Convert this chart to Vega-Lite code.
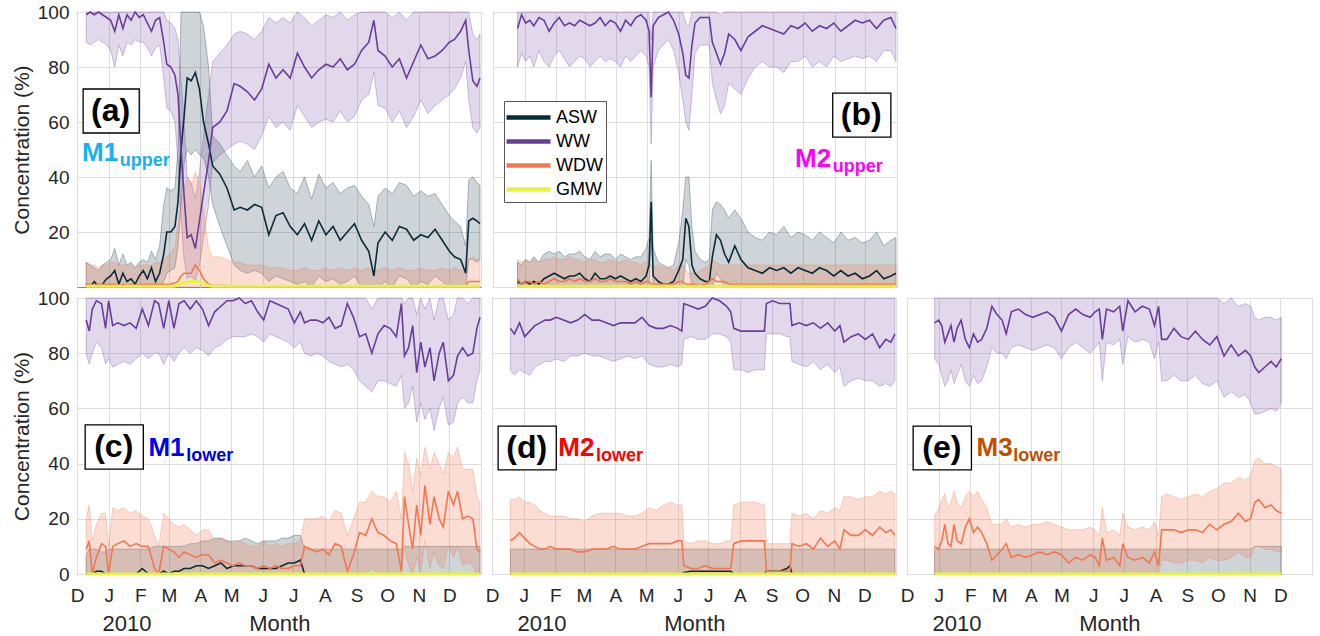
{
"$schema": "https://vega.github.io/schema/vega-lite/v6.json",
"padding": {"left": 10, "top": 2, "right": 0, "bottom": 0},
"background": "white",
"spacing": -5,
"resolve": {"scale": {"color": "independent"}, "legend": {"color": "independent"}},
"datasets": {
"a": [
{"d":"2009-12-10","wm":99,"wl":89,"wh":100,"am":1,"al":0,"ah":9,"om":1,"ol":0,"oh":9,"g":0.3},
{"d":"2009-12-14","wm":100,"wl":88,"wh":100,"am":0,"al":0,"ah":8,"om":1,"ol":0,"oh":8,"g":0.3},
{"d":"2009-12-18","wm":99,"wl":89,"wh":100,"am":2,"al":0,"ah":7,"om":0.5,"ol":0,"oh":8,"g":0.3},
{"d":"2009-12-22","wm":100,"wl":90,"wh":100,"am":0,"al":0,"ah":6,"om":1,"ol":0,"oh":7,"g":0.3},
{"d":"2009-12-26","wm":99,"wl":89,"wh":100,"am":1,"al":0,"ah":8,"om":1,"ol":0,"oh":8,"g":0.3},
{"d":"2009-12-30","wm":98,"wl":88,"wh":100,"am":3,"al":0,"ah":9,"om":1,"ol":0,"oh":8,"g":0.3},
{"d":"2010-01-03","wm":97,"wl":86,"wh":100,"am":4,"al":0,"ah":10,"om":1,"ol":0,"oh":9,"g":0.3},
{"d":"2010-01-07","wm":93,"wl":80,"wh":100,"am":6,"al":0,"ah":14,"om":1,"ol":0,"oh":9,"g":0.3},
{"d":"2010-01-11","wm":99,"wl":88,"wh":100,"am":1,"al":0,"ah":8,"om":0.5,"ol":0,"oh":8,"g":0.3},
{"d":"2010-01-15","wm":94,"wl":84,"wh":100,"am":5,"al":0,"ah":12,"om":1,"ol":0,"oh":8,"g":0.3},
{"d":"2010-01-19","wm":99,"wl":89,"wh":100,"am":2,"al":0,"ah":8,"om":0.5,"ol":0,"oh":8,"g":0.3},
{"d":"2010-01-23","wm":97,"wl":88,"wh":100,"am":3,"al":0,"ah":9,"om":1,"ol":0,"oh":8,"g":0.3},
{"d":"2010-01-27","wm":100,"wl":90,"wh":100,"am":1,"al":0,"ah":7,"om":0.5,"ol":0,"oh":7,"g":0.3},
{"d":"2010-01-31","wm":98,"wl":89,"wh":100,"am":4,"al":0,"ah":9,"om":1,"ol":0,"oh":8,"g":0.3},
{"d":"2010-02-04","wm":99,"wl":89,"wh":100,"am":6,"al":0,"ah":10,"om":1,"ol":0,"oh":8,"g":0.3},
{"d":"2010-02-08","wm":96,"wl":87,"wh":100,"am":3,"al":0,"ah":9,"om":1,"ol":0,"oh":8,"g":0.3},
{"d":"2010-02-12","wm":93,"wl":84,"wh":100,"am":7,"al":0,"ah":13,"om":1,"ol":0,"oh":8,"g":0.3},
{"d":"2010-02-16","wm":97,"wl":87,"wh":100,"am":2,"al":0,"ah":10,"om":1,"ol":0,"oh":9,"g":0.3},
{"d":"2010-02-20","wm":98,"wl":88,"wh":100,"am":5,"al":0,"ah":15,"om":1,"ol":0,"oh":9,"g":0.3},
{"d":"2010-02-24","wm":89,"wl":76,"wh":100,"am":12,"al":2,"ah":30,"om":1,"ol":0,"oh":10,"g":0.3},
{"d":"2010-02-27","wm":81,"wl":65,"wh":97,"am":20,"al":5,"ah":36,"om":1,"ol":0,"oh":11,"g":0.3},
{"d":"2010-03-03","wm":80,"wl":64,"wh":96,"am":20,"al":6,"ah":35,"om":1,"ol":0,"oh":12,"g":0.3},
{"d":"2010-03-07","wm":77,"wl":60,"wh":94,"am":22,"al":7,"ah":36,"om":1.5,"ol":0,"oh":15,"g":0.4},
{"d":"2010-03-10","wm":70,"wl":45,"wh":90,"am":31,"al":15,"ah":50,"om":2,"ol":0,"oh":22,"g":0.8},
{"d":"2010-03-13","wm":50,"wl":25,"wh":75,"am":50,"al":30,"ah":100,"om":4,"ol":0,"oh":30,"g":1.5},
{"d":"2010-03-16","wm":33,"wl":10,"wh":60,"am":62,"al":45,"ah":100,"om":5,"ol":0,"oh":36,"g":1.5},
{"d":"2010-03-19","wm":18,"wl":3,"wh":40,"am":76,"al":50,"ah":100,"om":5,"ol":0,"oh":40,"g":1.8},
{"d":"2010-03-23","wm":19,"wl":4,"wh":38,"am":75,"al":48,"ah":100,"om":5,"ol":0,"oh":37,"g":2},
{"d":"2010-03-27","wm":14,"wl":2,"wh":32,"am":78,"al":50,"ah":100,"om":8,"ol":0,"oh":42,"g":2},
{"d":"2010-03-31","wm":24,"wl":8,"wh":42,"am":72,"al":48,"ah":100,"om":6,"ol":0,"oh":38,"g":1.8},
{"d":"2010-04-04","wm":34,"wl":18,"wh":55,"am":60,"al":47,"ah":95,"om":3,"ol":0,"oh":28,"g":1.2},
{"d":"2010-04-09","wm":46,"wl":30,"wh":70,"am":52,"al":40,"ah":80,"om":1,"ol":0,"oh":14,"g":0.5},
{"d":"2010-04-13","wm":58,"wl":45,"wh":82,"am":44,"al":30,"ah":55,"om":0.5,"ol":0,"oh":11,"g":0.3},
{"d":"2010-04-20","wm":60,"wl":48,"wh":85,"am":41,"al":22,"ah":52,"om":0.5,"ol":0,"oh":11,"g":0.3},
{"d":"2010-04-27","wm":64,"wl":50,"wh":88,"am":36,"al":15,"ah":48,"om":0.5,"ol":0,"oh":10,"g":0.3},
{"d":"2010-05-04","wm":74,"wl":52,"wh":92,"am":28,"al":8,"ah":44,"om":0.3,"ol":0,"oh":9,"g":0.3},
{"d":"2010-05-10","wm":73,"wl":53,"wh":93,"am":29,"al":6,"ah":42,"om":0.3,"ol":0,"oh":9,"g":0.3},
{"d":"2010-05-17","wm":71,"wl":52,"wh":92,"am":28,"al":5,"ah":46,"om":0.3,"ol":0,"oh":8,"g":0.3},
{"d":"2010-05-24","wm":68,"wl":50,"wh":90,"am":30,"al":6,"ah":40,"om":0.3,"ol":0,"oh":8,"g":0.3},
{"d":"2010-05-31","wm":72,"wl":55,"wh":93,"am":29,"al":5,"ah":44,"om":0.3,"ol":0,"oh":8,"g":0.3},
{"d":"2010-06-07","wm":81,"wl":62,"wh":98,"am":19,"al":2,"ah":36,"om":0.3,"ol":0,"oh":7,"g":0.3},
{"d":"2010-06-14","wm":76,"wl":58,"wh":96,"am":26,"al":4,"ah":40,"om":0.3,"ol":0,"oh":7,"g":0.3},
{"d":"2010-06-21","wm":79,"wl":60,"wh":98,"am":27,"al":3,"ah":42,"om":0.3,"ol":0,"oh":7,"g":0.3},
{"d":"2010-06-28","wm":76,"wl":57,"wh":96,"am":22,"al":2,"ah":36,"om":0.3,"ol":0,"oh":6,"g":0.3},
{"d":"2010-07-05","wm":85,"wl":66,"wh":100,"am":19,"al":1,"ah":34,"om":0.3,"ol":0,"oh":6,"g":0.3},
{"d":"2010-07-12","wm":80,"wl":62,"wh":98,"am":23,"al":2,"ah":40,"om":0.3,"ol":0,"oh":7,"g":0.3},
{"d":"2010-07-19","wm":76,"wl":58,"wh":95,"am":17,"al":0,"ah":32,"om":0.3,"ol":0,"oh":6,"g":0.3},
{"d":"2010-07-26","wm":79,"wl":60,"wh":97,"am":24,"al":4,"ah":41,"om":0.3,"ol":0,"oh":6,"g":0.3},
{"d":"2010-08-02","wm":81,"wl":61,"wh":99,"am":19,"al":2,"ah":36,"om":0.3,"ol":0,"oh":7,"g":0.3},
{"d":"2010-08-09","wm":80,"wl":60,"wh":98,"am":22,"al":3,"ah":38,"om":0.3,"ol":0,"oh":6,"g":0.3},
{"d":"2010-08-16","wm":83,"wl":64,"wh":100,"am":17,"al":1,"ah":34,"om":0.3,"ol":0,"oh":7,"g":0.3},
{"d":"2010-08-23","wm":79,"wl":60,"wh":97,"am":20,"al":2,"ah":36,"om":0.3,"ol":0,"oh":6,"g":0.3},
{"d":"2010-08-30","wm":81,"wl":62,"wh":99,"am":23,"al":4,"ah":37,"om":0.3,"ol":0,"oh":7,"g":0.3},
{"d":"2010-09-06","wm":86,"wl":68,"wh":100,"am":17,"al":0,"ah":33,"om":0.3,"ol":0,"oh":6,"g":0.3},
{"d":"2010-09-13","wm":89,"wl":70,"wh":100,"am":13,"al":0,"ah":30,"om":0.3,"ol":0,"oh":7,"g":0.3},
{"d":"2010-09-18","wm":97,"wl":78,"wh":100,"am":4,"al":0,"ah":22,"om":0.3,"ol":0,"oh":6,"g":0.3},
{"d":"2010-09-22","wm":86,"wl":66,"wh":100,"am":16,"al":0,"ah":33,"om":0.3,"ol":0,"oh":6,"g":0.3},
{"d":"2010-09-29","wm":84,"wl":65,"wh":100,"am":20,"al":2,"ah":36,"om":0.3,"ol":0,"oh":7,"g":0.3},
{"d":"2010-10-06","wm":80,"wl":60,"wh":98,"am":17,"al":0,"ah":34,"om":0.3,"ol":0,"oh":6,"g":0.3},
{"d":"2010-10-13","wm":83,"wl":64,"wh":100,"am":22,"al":4,"ah":38,"om":0.3,"ol":0,"oh":7,"g":0.3},
{"d":"2010-10-20","wm":76,"wl":58,"wh":97,"am":21,"al":3,"ah":37,"om":0.3,"ol":0,"oh":6,"g":0.3},
{"d":"2010-10-27","wm":82,"wl":62,"wh":100,"am":17,"al":0,"ah":33,"om":0.3,"ol":0,"oh":6,"g":0.3},
{"d":"2010-11-03","wm":88,"wl":68,"wh":100,"am":19,"al":2,"ah":35,"om":0.3,"ol":0,"oh":7,"g":0.3},
{"d":"2010-11-10","wm":83,"wl":63,"wh":100,"am":18,"al":1,"ah":33,"om":0.5,"ol":0,"oh":6,"g":0.3},
{"d":"2010-11-17","wm":84,"wl":66,"wh":100,"am":21,"al":4,"ah":34,"om":0.3,"ol":0,"oh":6,"g":0.3},
{"d":"2010-11-24","wm":86,"wl":68,"wh":100,"am":17,"al":2,"ah":30,"om":0.5,"ol":0,"oh":7,"g":0.3},
{"d":"2010-12-01","wm":89,"wl":70,"wh":100,"am":13,"al":0,"ah":26,"om":0.3,"ol":0,"oh":6,"g":0.3},
{"d":"2010-12-06","wm":90,"wl":72,"wh":100,"am":11,"al":0,"ah":24,"om":0.5,"ol":0,"oh":7,"g":0.3},
{"d":"2010-12-12","wm":93,"wl":76,"wh":100,"am":10,"al":0,"ah":22,"om":0.3,"ol":0,"oh":6,"g":0.3},
{"d":"2010-12-17","wm":97,"wl":82,"wh":100,"am":5,"al":0,"ah":15,"om":0.5,"ol":0,"oh":6,"g":0.3},
{"d":"2010-12-20","wm":86,"wl":68,"wh":100,"am":24,"al":10,"ah":39,"om":2,"ol":0,"oh":10,"g":0.3},
{"d":"2010-12-24","wm":75,"wl":58,"wh":92,"am":25,"al":10,"ah":40,"om":2,"ol":0,"oh":11,"g":0.3},
{"d":"2010-12-28","wm":73,"wl":56,"wh":90,"am":24,"al":9,"ah":38,"om":2,"ol":0,"oh":10,"g":0.3},
{"d":"2010-12-31","wm":76,"wl":58,"wh":92,"am":23,"al":10,"ah":37,"om":2,"ol":0,"oh":10,"g":0.3}
],
"b": [
{"d":"2009-12-25","wm":94,"wl":80,"wh":100,"am":2,"al":0,"ah":9,"om":3,"ol":0,"oh":10,"g":0.3},
{"d":"2009-12-29","wm":99,"wl":85,"wh":100,"am":1,"al":0,"ah":8,"om":1,"ol":0,"oh":9,"g":0.3},
{"d":"2010-01-02","wm":96,"wl":82,"wh":100,"am":2,"al":0,"ah":10,"om":2,"ol":0,"oh":10,"g":0.3},
{"d":"2010-01-06","wm":97,"wl":84,"wh":100,"am":1,"al":0,"ah":9,"om":2,"ol":0,"oh":9,"g":0.3},
{"d":"2010-01-10","wm":95,"wl":80,"wh":100,"am":2,"al":0,"ah":11,"om":1,"ol":0,"oh":10,"g":0.3},
{"d":"2010-01-15","wm":98,"wl":86,"wh":100,"am":1,"al":0,"ah":9,"om":2,"ol":0,"oh":9,"g":0.3},
{"d":"2010-01-20","wm":97,"wl":82,"wh":100,"am":3,"al":0,"ah":12,"om":1,"ol":0,"oh":10,"g":0.3},
{"d":"2010-01-25","wm":93,"wl":80,"wh":100,"am":4,"al":0,"ah":13,"om":2,"ol":0,"oh":10,"g":0.3},
{"d":"2010-01-30","wm":96,"wl":84,"wh":100,"am":5,"al":0,"ah":12,"om":3,"ol":0,"oh":11,"g":0.3},
{"d":"2010-02-04","wm":98,"wl":86,"wh":100,"am":4,"al":0,"ah":13,"om":2,"ol":0,"oh":10,"g":0.3},
{"d":"2010-02-09","wm":95,"wl":83,"wh":100,"am":3,"al":0,"ah":11,"om":2,"ol":0,"oh":10,"g":0.3},
{"d":"2010-02-14","wm":96,"wl":80,"wh":100,"am":4,"al":0,"ah":12,"om":3,"ol":0,"oh":11,"g":0.3},
{"d":"2010-02-19","wm":95,"wl":82,"wh":100,"am":4,"al":0,"ah":12,"om":2,"ol":0,"oh":10,"g":0.3},
{"d":"2010-02-24","wm":97,"wl":84,"wh":100,"am":5,"al":0,"ah":13,"om":3,"ol":0,"oh":10,"g":0.3},
{"d":"2010-03-01","wm":96,"wl":83,"wh":100,"am":3,"al":0,"ah":11,"om":2,"ol":0,"oh":9,"g":0.3},
{"d":"2010-03-06","wm":95,"wl":80,"wh":100,"am":2,"al":0,"ah":10,"om":2,"ol":0,"oh":10,"g":0.3},
{"d":"2010-03-11","wm":96,"wl":82,"wh":100,"am":5,"al":0,"ah":13,"om":3,"ol":0,"oh":10,"g":0.3},
{"d":"2010-03-16","wm":98,"wl":84,"wh":100,"am":3,"al":0,"ah":11,"om":2,"ol":0,"oh":9,"g":0.3},
{"d":"2010-03-21","wm":95,"wl":82,"wh":100,"am":3,"al":0,"ah":12,"om":2,"ol":0,"oh":9,"g":0.3},
{"d":"2010-03-26","wm":97,"wl":83,"wh":100,"am":4,"al":0,"ah":12,"om":3,"ol":0,"oh":10,"g":0.3},
{"d":"2010-03-31","wm":96,"wl":82,"wh":100,"am":3,"al":0,"ah":10,"om":2,"ol":0,"oh":9,"g":0.3},
{"d":"2010-04-05","wm":93,"wl":80,"wh":100,"am":4,"al":0,"ah":12,"om":2,"ol":0,"oh":9,"g":0.3},
{"d":"2010-04-10","wm":97,"wl":84,"wh":100,"am":3,"al":0,"ah":11,"om":2,"ol":0,"oh":10,"g":0.3},
{"d":"2010-04-15","wm":95,"wl":82,"wh":100,"am":2,"al":0,"ah":10,"om":1,"ol":0,"oh":9,"g":0.3},
{"d":"2010-04-20","wm":98,"wl":84,"wh":100,"am":3,"al":0,"ah":11,"om":2,"ol":0,"oh":9,"g":0.3},
{"d":"2010-04-25","wm":99,"wl":86,"wh":100,"am":2,"al":0,"ah":11,"om":1,"ol":0,"oh":8,"g":0.3},
{"d":"2010-04-30","wm":97,"wl":84,"wh":100,"am":4,"al":0,"ah":14,"om":2,"ol":0,"oh":9,"g":0.3},
{"d":"2010-05-03","wm":93,"wl":80,"wh":100,"am":8,"al":0,"ah":18,"om":2,"ol":0,"oh":9,"g":0.3},
{"d":"2010-05-05","wm":69,"wl":52,"wh":90,"am":31,"al":18,"ah":46,"om":1,"ol":0,"oh":8,"g":0.3},
{"d":"2010-05-07","wm":95,"wl":80,"wh":100,"am":4,"al":0,"ah":14,"om":1,"ol":0,"oh":7,"g":0.3},
{"d":"2010-05-12","wm":98,"wl":86,"wh":100,"am":2,"al":0,"ah":9,"om":1,"ol":0,"oh":8,"g":0.3},
{"d":"2010-05-17","wm":99,"wl":88,"wh":100,"am":1,"al":0,"ah":8,"om":1,"ol":0,"oh":7,"g":0.3},
{"d":"2010-05-22","wm":100,"wl":90,"wh":100,"am":1,"al":0,"ah":7,"om":1,"ol":0,"oh":7,"g":0.3},
{"d":"2010-05-27","wm":97,"wl":86,"wh":100,"am":2,"al":0,"ah":8,"om":1,"ol":0,"oh":6,"g":0.3},
{"d":"2010-06-01","wm":92,"wl":78,"wh":100,"am":6,"al":0,"ah":16,"om":2,"ol":0,"oh":8,"g":0.3},
{"d":"2010-06-05","wm":85,"wl":68,"wh":100,"am":10,"al":0,"ah":28,"om":2,"ol":0,"oh":8,"g":0.3},
{"d":"2010-06-08","wm":77,"wl":60,"wh":96,"am":25,"al":10,"ah":40,"om":1,"ol":0,"oh":6,"g":0.3},
{"d":"2010-06-11","wm":76,"wl":57,"wh":95,"am":22,"al":8,"ah":40,"om":1,"ol":0,"oh":5,"g":0.3},
{"d":"2010-06-14","wm":88,"wl":70,"wh":100,"am":8,"al":0,"ah":22,"om":1,"ol":0,"oh":5,"g":0.3},
{"d":"2010-06-17","wm":96,"wl":85,"wh":100,"am":5,"al":0,"ah":13,"om":1,"ol":0,"oh":5,"g":0.3},
{"d":"2010-06-22","wm":98,"wl":88,"wh":100,"am":3,"al":0,"ah":10,"om":0.5,"ol":0,"oh":6,"g":0.3},
{"d":"2010-06-27","wm":98,"wl":88,"wh":100,"am":2,"al":0,"ah":9,"om":1,"ol":0,"oh":7,"g":0.3},
{"d":"2010-07-01","wm":98,"wl":88,"wh":100,"am":2,"al":0,"ah":10,"om":2,"ol":0,"oh":8,"g":0.3},
{"d":"2010-07-04","wm":89,"wl":74,"wh":100,"am":11,"al":0,"ah":28,"om":3,"ol":0,"oh":10,"g":0.3},
{"d":"2010-07-08","wm":85,"wl":68,"wh":100,"am":19,"al":5,"ah":31,"om":2,"ol":0,"oh":9,"g":0.3},
{"d":"2010-07-12","wm":81,"wl":63,"wh":99,"am":17,"al":3,"ah":30,"om":2,"ol":0,"oh":8,"g":0.3},
{"d":"2010-07-16","wm":85,"wl":66,"wh":100,"am":12,"al":0,"ah":28,"om":2,"ol":0,"oh":8,"g":0.3},
{"d":"2010-07-20","wm":92,"wl":74,"wh":100,"am":9,"al":0,"ah":25,"om":1,"ol":0,"oh":8,"g":0.3},
{"d":"2010-07-26","wm":90,"wl":72,"wh":100,"am":15,"al":2,"ah":28,"om":1,"ol":0,"oh":8,"g":0.3},
{"d":"2010-08-01","wm":86,"wl":70,"wh":100,"am":10,"al":0,"ah":25,"om":1,"ol":0,"oh":8,"g":0.3},
{"d":"2010-08-08","wm":91,"wl":76,"wh":100,"am":7,"al":0,"ah":20,"om":1,"ol":0,"oh":8,"g":0.3},
{"d":"2010-08-15","wm":93,"wl":80,"wh":100,"am":6,"al":0,"ah":18,"om":1,"ol":0,"oh":8,"g":0.3},
{"d":"2010-08-22","wm":95,"wl":82,"wh":100,"am":5,"al":0,"ah":17,"om":1,"ol":0,"oh":8,"g":0.3},
{"d":"2010-08-29","wm":94,"wl":80,"wh":100,"am":7,"al":0,"ah":20,"om":1,"ol":0,"oh":8,"g":0.3},
{"d":"2010-09-05","wm":93,"wl":80,"wh":100,"am":6,"al":0,"ah":19,"om":1,"ol":0,"oh":8,"g":0.3},
{"d":"2010-09-12","wm":92,"wl":78,"wh":100,"am":7,"al":0,"ah":22,"om":1,"ol":0,"oh":8,"g":0.3},
{"d":"2010-09-19","wm":95,"wl":82,"wh":100,"am":5,"al":0,"ah":18,"om":1,"ol":0,"oh":8,"g":0.3},
{"d":"2010-09-26","wm":94,"wl":82,"wh":100,"am":7,"al":0,"ah":20,"om":1,"ol":0,"oh":8,"g":0.3},
{"d":"2010-10-03","wm":96,"wl":84,"wh":100,"am":6,"al":0,"ah":19,"om":1,"ol":0,"oh":8,"g":0.3},
{"d":"2010-10-10","wm":93,"wl":80,"wh":100,"am":5,"al":0,"ah":17,"om":1,"ol":0,"oh":8,"g":0.3},
{"d":"2010-10-17","wm":95,"wl":82,"wh":100,"am":7,"al":0,"ah":20,"om":1,"ol":0,"oh":8,"g":0.3},
{"d":"2010-10-24","wm":94,"wl":80,"wh":100,"am":6,"al":0,"ah":18,"om":1,"ol":0,"oh":8,"g":0.3},
{"d":"2010-10-31","wm":96,"wl":84,"wh":100,"am":4,"al":0,"ah":16,"om":1,"ol":0,"oh":8,"g":0.3},
{"d":"2010-11-07","wm":93,"wl":82,"wh":100,"am":6,"al":0,"ah":20,"om":1,"ol":0,"oh":8,"g":0.3},
{"d":"2010-11-14","wm":95,"wl":83,"wh":100,"am":4,"al":0,"ah":17,"om":1,"ol":0,"oh":8,"g":0.3},
{"d":"2010-11-21","wm":97,"wl":84,"wh":100,"am":5,"al":0,"ah":18,"om":1,"ol":0,"oh":8,"g":0.3},
{"d":"2010-11-28","wm":96,"wl":83,"wh":100,"am":3,"al":0,"ah":16,"om":1,"ol":0,"oh":8,"g":0.3},
{"d":"2010-12-05","wm":97,"wl":84,"wh":100,"am":4,"al":0,"ah":17,"om":1,"ol":0,"oh":8,"g":0.3},
{"d":"2010-12-12","wm":94,"wl":82,"wh":100,"am":6,"al":0,"ah":20,"om":1,"ol":0,"oh":8,"g":0.3},
{"d":"2010-12-19","wm":97,"wl":86,"wh":100,"am":3,"al":0,"ah":15,"om":1,"ol":0,"oh":8,"g":0.3},
{"d":"2010-12-26","wm":98,"wl":86,"wh":100,"am":4,"al":0,"ah":17,"om":1,"ol":0,"oh":8,"g":0.3},
{"d":"2010-12-31","wm":94,"wl":82,"wh":100,"am":5,"al":0,"ah":18,"om":1,"ol":0,"oh":8,"g":0.3}
],
"c": [
{"d":"2009-12-10","wm":92,"wl":80,"wh":100,"am":0,"al":0,"ah":7,"om":9,"ol":0,"oh":20,"g":0},
{"d":"2009-12-13","wm":88,"wl":76,"wh":100,"am":0,"al":0,"ah":9,"om":12,"ol":0,"oh":25,"g":0},
{"d":"2009-12-16","wm":96,"wl":80,"wh":100,"am":0,"al":0,"ah":9,"om":0,"ol":0,"oh":12,"g":0},
{"d":"2009-12-20","wm":99,"wl":84,"wh":100,"am":1,"al":0,"ah":9,"om":6,"ol":0,"oh":18,"g":0},
{"d":"2009-12-25","wm":98,"wl":82,"wh":100,"am":1,"al":0,"ah":8,"om":11,"ol":0,"oh":22,"g":0},
{"d":"2009-12-29","wm":89,"wl":76,"wh":100,"am":0,"al":0,"ah":8,"om":10,"ol":0,"oh":22,"g":0},
{"d":"2010-01-01","wm":99,"wl":78,"wh":100,"am":0,"al":0,"ah":9,"om":0,"ol":0,"oh":10,"g":0},
{"d":"2010-01-05","wm":90,"wl":75,"wh":100,"am":0,"al":0,"ah":9,"om":10,"ol":0,"oh":24,"g":0},
{"d":"2010-01-10","wm":91,"wl":76,"wh":100,"am":0,"al":0,"ah":9,"om":11,"ol":0,"oh":23,"g":0},
{"d":"2010-01-16","wm":90,"wl":77,"wh":100,"am":0,"al":0,"ah":9,"om":12,"ol":0,"oh":24,"g":0},
{"d":"2010-01-22","wm":91,"wl":76,"wh":100,"am":0,"al":0,"ah":9,"om":10,"ol":0,"oh":22,"g":0},
{"d":"2010-01-28","wm":89,"wl":78,"wh":100,"am":0,"al":0,"ah":9,"om":11,"ol":0,"oh":23,"g":0},
{"d":"2010-02-03","wm":96,"wl":80,"wh":100,"am":2,"al":0,"ah":9,"om":10,"ol":0,"oh":21,"g":0},
{"d":"2010-02-09","wm":90,"wl":78,"wh":100,"am":0,"al":0,"ah":9,"om":10,"ol":0,"oh":20,"g":0},
{"d":"2010-02-15","wm":99,"wl":80,"wh":100,"am":0,"al":0,"ah":10,"om":2,"ol":0,"oh":14,"g":0},
{"d":"2010-02-19","wm":98,"wl":80,"wh":100,"am":0,"al":0,"ah":10,"om":0,"ol":0,"oh":10,"g":0},
{"d":"2010-02-24","wm":89,"wl":76,"wh":100,"am":1,"al":0,"ah":10,"om":10,"ol":0,"oh":22,"g":0},
{"d":"2010-03-01","wm":99,"wl":80,"wh":100,"am":0,"al":0,"ah":10,"om":9,"ol":0,"oh":20,"g":0},
{"d":"2010-03-06","wm":89,"wl":77,"wh":100,"am":1,"al":0,"ah":10,"om":8,"ol":0,"oh":18,"g":0},
{"d":"2010-03-11","wm":98,"wl":80,"wh":100,"am":1,"al":0,"ah":10,"om":6,"ol":0,"oh":17,"g":0},
{"d":"2010-03-16","wm":99,"wl":82,"wh":100,"am":2,"al":0,"ah":10,"om":8,"ol":0,"oh":18,"g":0},
{"d":"2010-03-22","wm":96,"wl":80,"wh":100,"am":2,"al":0,"ah":11,"om":7,"ol":0,"oh":16,"g":0},
{"d":"2010-03-28","wm":99,"wl":82,"wh":100,"am":3,"al":0,"ah":11,"om":6,"ol":0,"oh":14,"g":0},
{"d":"2010-04-03","wm":96,"wl":81,"wh":100,"am":3,"al":0,"ah":12,"om":7,"ol":0,"oh":16,"g":0},
{"d":"2010-04-09","wm":90,"wl":79,"wh":100,"am":2,"al":0,"ah":12,"om":7,"ol":0,"oh":16,"g":0},
{"d":"2010-04-15","wm":95,"wl":82,"wh":100,"am":3,"al":0,"ah":13,"om":4,"ol":0,"oh":12,"g":0},
{"d":"2010-04-21","wm":97,"wl":83,"wh":100,"am":4,"al":0,"ah":13,"om":5,"ol":0,"oh":13,"g":0},
{"d":"2010-04-27","wm":99,"wl":85,"wh":100,"am":2,"al":0,"ah":12,"om":4,"ol":0,"oh":12,"g":0},
{"d":"2010-05-03","wm":99,"wl":86,"wh":100,"am":3,"al":0,"ah":12,"om":3,"ol":0,"oh":11,"g":0},
{"d":"2010-05-09","wm":100,"wl":86,"wh":100,"am":3,"al":0,"ah":12,"om":4,"ol":0,"oh":12,"g":0},
{"d":"2010-05-15","wm":98,"wl":86,"wh":100,"am":3,"al":0,"ah":13,"om":3,"ol":0,"oh":11,"g":0},
{"d":"2010-05-21","wm":99,"wl":87,"wh":100,"am":3,"al":0,"ah":12,"om":3,"ol":0,"oh":10,"g":0},
{"d":"2010-05-27","wm":95,"wl":86,"wh":100,"am":2,"al":0,"ah":11,"om":2,"ol":0,"oh":10,"g":0},
{"d":"2010-06-02","wm":92,"wl":84,"wh":100,"am":2,"al":0,"ah":12,"om":3,"ol":0,"oh":12,"g":0},
{"d":"2010-06-08","wm":99,"wl":87,"wh":100,"am":2,"al":0,"ah":12,"om":2,"ol":0,"oh":10,"g":0},
{"d":"2010-06-14","wm":98,"wl":86,"wh":100,"am":2,"al":0,"ah":12,"om":3,"ol":0,"oh":11,"g":0},
{"d":"2010-06-20","wm":97,"wl":85,"wh":100,"am":3,"al":0,"ah":13,"om":2,"ol":0,"oh":10,"g":0},
{"d":"2010-06-26","wm":96,"wl":84,"wh":100,"am":4,"al":0,"ah":13,"om":2,"ol":0,"oh":11,"g":0},
{"d":"2010-07-02","wm":91,"wl":82,"wh":100,"am":4,"al":0,"ah":14,"om":3,"ol":0,"oh":11,"g":0},
{"d":"2010-07-08","wm":95,"wl":84,"wh":100,"am":5,"al":0,"ah":14,"om":3,"ol":0,"oh":12,"g":0},
{"d":"2010-07-12","wm":91,"wl":80,"wh":100,"am":0,"al":0,"ah":9,"om":10,"ol":0,"oh":20,"g":0},
{"d":"2010-07-18","wm":92,"wl":79,"wh":100,"am":0,"al":0,"ah":9,"om":9,"ol":0,"oh":20,"g":0},
{"d":"2010-07-24","wm":92,"wl":80,"wh":100,"am":0,"al":0,"ah":9,"om":8,"ol":0,"oh":20,"g":0},
{"d":"2010-07-30","wm":91,"wl":79,"wh":100,"am":0,"al":0,"ah":9,"om":9,"ol":0,"oh":21,"g":0},
{"d":"2010-08-05","wm":93,"wl":77,"wh":100,"am":0,"al":0,"ah":9,"om":7,"ol":0,"oh":19,"g":0},
{"d":"2010-08-11","wm":89,"wl":76,"wh":100,"am":0,"al":0,"ah":9,"om":11,"ol":0,"oh":23,"g":0},
{"d":"2010-08-17","wm":90,"wl":75,"wh":100,"am":0,"al":0,"ah":9,"om":10,"ol":0,"oh":22,"g":0},
{"d":"2010-08-23","wm":98,"wl":76,"wh":100,"am":0,"al":0,"ah":9,"om":1,"ol":0,"oh":14,"g":0},
{"d":"2010-08-29","wm":93,"wl":74,"wh":100,"am":0,"al":0,"ah":9,"om":7,"ol":0,"oh":20,"g":0},
{"d":"2010-09-04","wm":86,"wl":70,"wh":100,"am":0,"al":0,"ah":9,"om":15,"ol":0,"oh":26,"g":0},
{"d":"2010-09-10","wm":87,"wl":68,"wh":100,"am":0,"al":0,"ah":9,"om":14,"ol":0,"oh":26,"g":0},
{"d":"2010-09-16","wm":80,"wl":66,"wh":96,"am":0,"al":0,"ah":9,"om":20,"ol":2,"oh":30,"g":0},
{"d":"2010-09-22","wm":87,"wl":70,"wh":100,"am":0,"al":0,"ah":9,"om":15,"ol":0,"oh":28,"g":0},
{"d":"2010-09-28","wm":90,"wl":70,"wh":100,"am":0,"al":0,"ah":9,"om":14,"ol":0,"oh":28,"g":0},
{"d":"2010-10-04","wm":89,"wl":69,"wh":100,"am":0,"al":0,"ah":9,"om":12,"ol":0,"oh":26,"g":0},
{"d":"2010-10-10","wm":86,"wl":68,"wh":100,"am":0,"al":0,"ah":9,"om":11,"ol":0,"oh":30,"g":0},
{"d":"2010-10-15","wm":98,"wl":72,"wh":100,"am":0,"al":0,"ah":9,"om":1,"ol":0,"oh":20,"g":0},
{"d":"2010-10-18","wm":79,"wl":60,"wh":98,"am":0,"al":0,"ah":10,"om":28,"ol":10,"oh":44,"g":0},
{"d":"2010-10-22","wm":82,"wl":62,"wh":100,"am":0,"al":0,"ah":10,"om":18,"ol":3,"oh":40,"g":0},
{"d":"2010-10-26","wm":90,"wl":68,"wh":100,"am":0,"al":0,"ah":10,"om":9,"ol":0,"oh":30,"g":0},
{"d":"2010-10-30","wm":73,"wl":55,"wh":94,"am":0,"al":0,"ah":10,"om":25,"ol":6,"oh":42,"g":0},
{"d":"2010-11-03","wm":84,"wl":62,"wh":100,"am":0,"al":0,"ah":10,"om":14,"ol":0,"oh":36,"g":0},
{"d":"2010-11-07","wm":75,"wl":56,"wh":96,"am":0,"al":0,"ah":10,"om":32,"ol":12,"oh":46,"g":0},
{"d":"2010-11-12","wm":82,"wl":60,"wh":100,"am":0,"al":0,"ah":10,"om":18,"ol":2,"oh":38,"g":0},
{"d":"2010-11-16","wm":70,"wl":52,"wh":92,"am":0,"al":0,"ah":10,"om":28,"ol":8,"oh":44,"g":0},
{"d":"2010-11-21","wm":80,"wl":60,"wh":100,"am":0,"al":0,"ah":10,"om":20,"ol":3,"oh":40,"g":0},
{"d":"2010-11-25","wm":84,"wl":64,"wh":100,"am":0,"al":0,"ah":10,"om":17,"ol":2,"oh":36,"g":0},
{"d":"2010-11-30","wm":70,"wl":54,"wh":92,"am":0,"al":0,"ah":10,"om":30,"ol":10,"oh":44,"g":0},
{"d":"2010-12-05","wm":72,"wl":55,"wh":94,"am":0,"al":0,"ah":10,"om":25,"ol":6,"oh":42,"g":0},
{"d":"2010-12-09","wm":79,"wl":62,"wh":100,"am":0,"al":0,"ah":10,"om":30,"ol":10,"oh":46,"g":0},
{"d":"2010-12-14","wm":82,"wl":64,"wh":100,"am":0,"al":0,"ah":10,"om":20,"ol":3,"oh":38,"g":0},
{"d":"2010-12-19","wm":79,"wl":62,"wh":98,"am":0,"al":0,"ah":10,"om":21,"ol":4,"oh":38,"g":0},
{"d":"2010-12-24","wm":80,"wl":62,"wh":100,"am":0,"al":0,"ah":10,"om":20,"ol":3,"oh":38,"g":0},
{"d":"2010-12-28","wm":89,"wl":70,"wh":100,"am":0,"al":0,"ah":10,"om":9,"ol":0,"oh":28,"g":0},
{"d":"2010-12-31","wm":93,"wl":74,"wh":100,"am":0,"al":0,"ah":10,"om":8,"ol":0,"oh":26,"g":0}
],
"d": [
{"d":"2009-12-19","wm":89,"wl":74,"wh":100,"am":0,"al":0,"ah":9,"om":12,"ol":0,"oh":27,"g":0},
{"d":"2009-12-23","wm":87,"wl":72,"wh":100,"am":0,"al":0,"ah":9,"om":13,"ol":0,"oh":27,"g":0},
{"d":"2009-12-28","wm":91,"wl":74,"wh":100,"am":0,"al":0,"ah":9,"om":15,"ol":0,"oh":28,"g":0},
{"d":"2010-01-02","wm":86,"wl":73,"wh":100,"am":0,"al":0,"ah":9,"om":13,"ol":0,"oh":26,"g":0},
{"d":"2010-01-07","wm":88,"wl":72,"wh":100,"am":0,"al":0,"ah":9,"om":11,"ol":0,"oh":26,"g":0},
{"d":"2010-01-12","wm":90,"wl":75,"wh":100,"am":0,"al":0,"ah":9,"om":10,"ol":0,"oh":25,"g":0},
{"d":"2010-01-17","wm":91,"wl":76,"wh":100,"am":0,"al":0,"ah":9,"om":9,"ol":0,"oh":23,"g":0},
{"d":"2010-01-22","wm":92,"wl":77,"wh":100,"am":0,"al":0,"ah":9,"om":9,"ol":0,"oh":22,"g":0},
{"d":"2010-01-27","wm":92,"wl":77,"wh":100,"am":0,"al":0,"ah":9,"om":10,"ol":0,"oh":21,"g":0},
{"d":"2010-02-02","wm":93,"wl":78,"wh":100,"am":0,"al":0,"ah":9,"om":9,"ol":0,"oh":21,"g":0},
{"d":"2010-02-09","wm":92,"wl":77,"wh":100,"am":0,"al":0,"ah":9,"om":9,"ol":0,"oh":21,"g":0},
{"d":"2010-02-16","wm":91,"wl":79,"wh":100,"am":0,"al":0,"ah":9,"om":9,"ol":0,"oh":20,"g":0},
{"d":"2010-02-23","wm":92,"wl":79,"wh":100,"am":0,"al":0,"ah":9,"om":8,"ol":0,"oh":20,"g":0},
{"d":"2010-03-02","wm":94,"wl":80,"wh":100,"am":0,"al":0,"ah":9,"om":8,"ol":0,"oh":19,"g":0},
{"d":"2010-03-09","wm":92,"wl":79,"wh":100,"am":0,"al":0,"ah":9,"om":9,"ol":0,"oh":21,"g":0},
{"d":"2010-03-16","wm":92,"wl":79,"wh":100,"am":0,"al":0,"ah":9,"om":9,"ol":0,"oh":22,"g":0},
{"d":"2010-03-23","wm":91,"wl":78,"wh":100,"am":0,"al":0,"ah":9,"om":9,"ol":0,"oh":22,"g":0},
{"d":"2010-03-30","wm":90,"wl":77,"wh":100,"am":0,"al":0,"ah":9,"om":10,"ol":0,"oh":22,"g":0},
{"d":"2010-04-06","wm":91,"wl":78,"wh":100,"am":0,"al":0,"ah":9,"om":9,"ol":0,"oh":22,"g":0},
{"d":"2010-04-13","wm":91,"wl":79,"wh":100,"am":0,"al":0,"ah":9,"om":9,"ol":0,"oh":21,"g":0},
{"d":"2010-04-20","wm":91,"wl":78,"wh":100,"am":0,"al":0,"ah":9,"om":9,"ol":0,"oh":21,"g":0},
{"d":"2010-04-27","wm":93,"wl":79,"wh":100,"am":0,"al":0,"ah":9,"om":10,"ol":0,"oh":22,"g":0},
{"d":"2010-05-04","wm":90,"wl":76,"wh":100,"am":0,"al":0,"ah":9,"om":11,"ol":0,"oh":24,"g":0},
{"d":"2010-05-11","wm":89,"wl":75,"wh":100,"am":0,"al":0,"ah":9,"om":11,"ol":0,"oh":23,"g":0},
{"d":"2010-05-18","wm":89,"wl":75,"wh":100,"am":0,"al":0,"ah":9,"om":11,"ol":0,"oh":25,"g":0},
{"d":"2010-05-25","wm":90,"wl":76,"wh":100,"am":0,"al":0,"ah":9,"om":11,"ol":0,"oh":26,"g":0},
{"d":"2010-06-01","wm":89,"wl":75,"wh":100,"am":0,"al":0,"ah":9,"om":12,"ol":0,"oh":25,"g":0},
{"d":"2010-06-05","wm":88,"wl":76,"wh":100,"am":0,"al":0,"ah":9,"om":12,"ol":0,"oh":25,"g":0},
{"d":"2010-06-07","wm":98,"wl":85,"wh":100,"am":0.5,"al":0,"ah":9,"om":3,"ol":0,"oh":12,"g":0},
{"d":"2010-06-14","wm":97,"wl":86,"wh":100,"am":1,"al":0,"ah":9,"om":2,"ol":0,"oh":11,"g":0},
{"d":"2010-06-21","wm":96,"wl":85,"wh":100,"am":1,"al":0,"ah":9,"om":2,"ol":0,"oh":12,"g":0},
{"d":"2010-06-28","wm":97,"wl":85,"wh":100,"am":1,"al":0,"ah":9,"om":3,"ol":0,"oh":12,"g":0},
{"d":"2010-07-05","wm":100,"wl":87,"wh":100,"am":1,"al":0,"ah":9,"om":2,"ol":0,"oh":11,"g":0},
{"d":"2010-07-12","wm":99,"wl":87,"wh":100,"am":1,"al":0,"ah":9,"om":2,"ol":0,"oh":11,"g":0},
{"d":"2010-07-19","wm":97,"wl":86,"wh":100,"am":1,"al":0,"ah":9,"om":2,"ol":0,"oh":12,"g":0},
{"d":"2010-07-23","wm":95,"wl":84,"wh":100,"am":1,"al":0,"ah":9,"om":2,"ol":0,"oh":12,"g":0},
{"d":"2010-07-26","wm":89,"wl":74,"wh":100,"am":0,"al":0,"ah":9,"om":11,"ol":0,"oh":25,"g":0},
{"d":"2010-08-02","wm":88,"wl":74,"wh":100,"am":0,"al":0,"ah":9,"om":12,"ol":0,"oh":26,"g":0},
{"d":"2010-08-09","wm":88,"wl":73,"wh":100,"am":0,"al":0,"ah":9,"om":12,"ol":0,"oh":26,"g":0},
{"d":"2010-08-16","wm":88,"wl":74,"wh":100,"am":0,"al":0,"ah":9,"om":12,"ol":0,"oh":26,"g":0},
{"d":"2010-08-25","wm":88,"wl":74,"wh":100,"am":0,"al":0,"ah":9,"om":12,"ol":0,"oh":25,"g":0},
{"d":"2010-08-27","wm":98,"wl":87,"wh":100,"am":1,"al":0,"ah":9,"om":1,"ol":0,"oh":11,"g":0},
{"d":"2010-09-02","wm":99,"wl":87,"wh":100,"am":1,"al":0,"ah":9,"om":1,"ol":0,"oh":11,"g":0},
{"d":"2010-09-09","wm":98,"wl":87,"wh":100,"am":1,"al":0,"ah":9,"om":1,"ol":0,"oh":11,"g":0},
{"d":"2010-09-16","wm":98,"wl":86,"wh":100,"am":2,"al":0,"ah":9,"om":1,"ol":0,"oh":11,"g":0},
{"d":"2010-09-19","wm":98,"wl":86,"wh":100,"am":3,"al":0,"ah":9,"om":1,"ol":0,"oh":11,"g":0},
{"d":"2010-09-21","wm":90,"wl":77,"wh":100,"am":0,"al":0,"ah":9,"om":11,"ol":0,"oh":22,"g":0},
{"d":"2010-09-28","wm":91,"wl":76,"wh":100,"am":0,"al":0,"ah":9,"om":10,"ol":0,"oh":21,"g":0},
{"d":"2010-10-05","wm":90,"wl":75,"wh":100,"am":0,"al":0,"ah":9,"om":11,"ol":0,"oh":22,"g":0},
{"d":"2010-10-12","wm":91,"wl":77,"wh":100,"am":0,"al":0,"ah":9,"om":9,"ol":0,"oh":20,"g":0},
{"d":"2010-10-19","wm":89,"wl":74,"wh":100,"am":0,"al":0,"ah":9,"om":13,"ol":0,"oh":23,"g":0},
{"d":"2010-10-26","wm":91,"wl":76,"wh":100,"am":0,"al":0,"ah":9,"om":10,"ol":0,"oh":22,"g":0},
{"d":"2010-11-02","wm":88,"wl":73,"wh":100,"am":0,"al":0,"ah":9,"om":12,"ol":0,"oh":24,"g":0},
{"d":"2010-11-07","wm":90,"wl":75,"wh":100,"am":0,"al":0,"ah":9,"om":9,"ol":0,"oh":23,"g":0},
{"d":"2010-11-11","wm":84,"wl":68,"wh":100,"am":0,"al":0,"ah":9,"om":16,"ol":0,"oh":28,"g":0},
{"d":"2010-11-18","wm":86,"wl":70,"wh":100,"am":0,"al":0,"ah":9,"om":14,"ol":0,"oh":28,"g":0},
{"d":"2010-11-25","wm":87,"wl":71,"wh":100,"am":0,"al":0,"ah":9,"om":14,"ol":0,"oh":27,"g":0},
{"d":"2010-12-02","wm":85,"wl":70,"wh":100,"am":0,"al":0,"ah":9,"om":16,"ol":0,"oh":28,"g":0},
{"d":"2010-12-09","wm":87,"wl":70,"wh":100,"am":0,"al":0,"ah":9,"om":14,"ol":0,"oh":28,"g":0},
{"d":"2010-12-16","wm":82,"wl":68,"wh":100,"am":0,"al":0,"ah":9,"om":17,"ol":0,"oh":30,"g":0},
{"d":"2010-12-22","wm":85,"wl":69,"wh":100,"am":0,"al":0,"ah":9,"om":15,"ol":0,"oh":29,"g":0},
{"d":"2010-12-27","wm":84,"wl":68,"wh":100,"am":0,"al":0,"ah":9,"om":16,"ol":0,"oh":30,"g":0},
{"d":"2010-12-31","wm":87,"wl":70,"wh":100,"am":0,"al":0,"ah":9,"om":14,"ol":0,"oh":29,"g":0}
],
"e": [
{"d":"2009-12-28","wm":91,"wl":78,"wh":100,"am":0,"al":0,"ah":9,"om":10,"ol":0,"oh":21,"g":0},
{"d":"2010-01-01","wm":92,"wl":76,"wh":100,"am":0,"al":0,"ah":9,"om":9,"ol":0,"oh":24,"g":0},
{"d":"2010-01-04","wm":90,"wl":72,"wh":100,"am":0,"al":0,"ah":9,"om":12,"ol":0,"oh":27,"g":0},
{"d":"2010-01-07","wm":84,"wl":68,"wh":100,"am":0,"al":0,"ah":9,"om":18,"ol":0,"oh":29,"g":0},
{"d":"2010-01-10","wm":87,"wl":70,"wh":100,"am":0,"al":0,"ah":9,"om":11,"ol":0,"oh":24,"g":0},
{"d":"2010-01-13","wm":90,"wl":74,"wh":100,"am":0,"al":0,"ah":9,"om":10,"ol":0,"oh":26,"g":0},
{"d":"2010-01-16","wm":84,"wl":69,"wh":100,"am":0,"al":0,"ah":9,"om":18,"ol":0,"oh":30,"g":0},
{"d":"2010-01-19","wm":89,"wl":72,"wh":100,"am":0,"al":0,"ah":9,"om":12,"ol":0,"oh":26,"g":0},
{"d":"2010-01-23","wm":92,"wl":76,"wh":100,"am":0,"al":0,"ah":9,"om":11,"ol":0,"oh":24,"g":0},
{"d":"2010-01-27","wm":85,"wl":70,"wh":100,"am":0,"al":0,"ah":9,"om":17,"ol":0,"oh":28,"g":0},
{"d":"2010-01-31","wm":82,"wl":68,"wh":100,"am":0,"al":0,"ah":9,"om":20,"ol":0,"oh":30,"g":0},
{"d":"2010-02-04","wm":87,"wl":72,"wh":100,"am":0,"al":0,"ah":9,"om":15,"ol":0,"oh":28,"g":0},
{"d":"2010-02-08","wm":84,"wl":69,"wh":100,"am":0,"al":0,"ah":9,"om":17,"ol":0,"oh":30,"g":0},
{"d":"2010-02-12","wm":85,"wl":70,"wh":100,"am":0,"al":0,"ah":9,"om":15,"ol":0,"oh":27,"g":0},
{"d":"2010-02-17","wm":89,"wl":75,"wh":100,"am":0,"al":0,"ah":9,"om":11,"ol":0,"oh":24,"g":0},
{"d":"2010-02-22","wm":97,"wl":82,"wh":100,"am":0,"al":0,"ah":9,"om":5,"ol":0,"oh":18,"g":0},
{"d":"2010-02-27","wm":94,"wl":80,"wh":100,"am":0,"al":0,"ah":9,"om":7,"ol":0,"oh":18,"g":0},
{"d":"2010-03-04","wm":92,"wl":80,"wh":100,"am":0,"al":0,"ah":9,"om":9,"ol":0,"oh":18,"g":0},
{"d":"2010-03-08","wm":87,"wl":78,"wh":100,"am":0,"al":0,"ah":9,"om":11,"ol":0,"oh":20,"g":0},
{"d":"2010-03-13","wm":95,"wl":82,"wh":100,"am":0,"al":0,"ah":9,"om":6,"ol":0,"oh":17,"g":0},
{"d":"2010-03-20","wm":96,"wl":83,"wh":100,"am":0,"al":0,"ah":9,"om":7,"ol":0,"oh":18,"g":0},
{"d":"2010-03-27","wm":94,"wl":82,"wh":100,"am":0,"al":0,"ah":9,"om":6,"ol":0,"oh":17,"g":0},
{"d":"2010-04-03","wm":93,"wl":81,"wh":100,"am":0,"al":0,"ah":9,"om":7,"ol":0,"oh":18,"g":0},
{"d":"2010-04-10","wm":94,"wl":82,"wh":100,"am":0,"al":0,"ah":9,"om":8,"ol":0,"oh":18,"g":0},
{"d":"2010-04-17","wm":95,"wl":83,"wh":100,"am":0,"al":0,"ah":9,"om":7,"ol":0,"oh":19,"g":0},
{"d":"2010-04-24","wm":93,"wl":82,"wh":100,"am":0,"al":0,"ah":9,"om":8,"ol":0,"oh":18,"g":0},
{"d":"2010-05-01","wm":88,"wl":78,"wh":100,"am":0,"al":0,"ah":9,"om":7,"ol":0,"oh":17,"g":0},
{"d":"2010-05-08","wm":94,"wl":82,"wh":100,"am":0,"al":0,"ah":9,"om":4,"ol":0,"oh":16,"g":0},
{"d":"2010-05-15","wm":96,"wl":84,"wh":100,"am":0,"al":0,"ah":9,"om":6,"ol":0,"oh":16,"g":0},
{"d":"2010-05-22","wm":94,"wl":82,"wh":100,"am":0,"al":0,"ah":9,"om":5,"ol":0,"oh":16,"g":0},
{"d":"2010-05-29","wm":93,"wl":80,"wh":100,"am":0,"al":0,"ah":9,"om":7,"ol":0,"oh":17,"g":0},
{"d":"2010-06-03","wm":95,"wl":82,"wh":100,"am":0,"al":0,"ah":9,"om":6,"ol":0,"oh":16,"g":0},
{"d":"2010-06-07","wm":96,"wl":84,"wh":100,"am":0,"al":0,"ah":9,"om":3,"ol":0,"oh":14,"g":0},
{"d":"2010-06-10","wm":85,"wl":70,"wh":100,"am":0,"al":0,"ah":9,"om":13,"ol":0,"oh":24,"g":0},
{"d":"2010-06-14","wm":96,"wl":84,"wh":100,"am":0,"al":0,"ah":9,"om":5,"ol":0,"oh":15,"g":0},
{"d":"2010-06-21","wm":95,"wl":83,"wh":100,"am":0,"al":0,"ah":9,"om":6,"ol":0,"oh":16,"g":0},
{"d":"2010-06-27","wm":97,"wl":85,"wh":100,"am":0,"al":0,"ah":9,"om":3,"ol":0,"oh":14,"g":0},
{"d":"2010-06-30","wm":88,"wl":76,"wh":100,"am":0,"al":0,"ah":9,"om":11,"ol":0,"oh":22,"g":0},
{"d":"2010-07-05","wm":99,"wl":86,"wh":100,"am":0,"al":0,"ah":9,"om":6,"ol":0,"oh":17,"g":0},
{"d":"2010-07-12","wm":95,"wl":84,"wh":100,"am":0,"al":0,"ah":9,"om":5,"ol":0,"oh":16,"g":0},
{"d":"2010-07-19","wm":97,"wl":85,"wh":100,"am":0,"al":0,"ah":9,"om":6,"ol":0,"oh":17,"g":0},
{"d":"2010-07-26","wm":96,"wl":84,"wh":100,"am":0,"al":0,"ah":9,"om":4,"ol":0,"oh":16,"g":0},
{"d":"2010-07-31","wm":90,"wl":78,"wh":100,"am":0,"al":0,"ah":9,"om":8,"ol":0,"oh":19,"g":0},
{"d":"2010-08-04","wm":97,"wl":84,"wh":100,"am":0,"al":0,"ah":9,"om":3,"ol":0,"oh":14,"g":0},
{"d":"2010-08-07","wm":85,"wl":70,"wh":100,"am":0,"al":0,"ah":9,"om":16,"ol":5,"oh":28,"g":0},
{"d":"2010-08-12","wm":85,"wl":70,"wh":100,"am":0,"al":0,"ah":9,"om":16,"ol":5,"oh":29,"g":0},
{"d":"2010-08-19","wm":89,"wl":72,"wh":100,"am":0,"al":0,"ah":9,"om":16,"ol":4,"oh":28,"g":0},
{"d":"2010-08-26","wm":86,"wl":70,"wh":100,"am":0,"al":0,"ah":9,"om":15,"ol":4,"oh":27,"g":0},
{"d":"2010-09-02","wm":85,"wl":70,"wh":100,"am":0,"al":0,"ah":9,"om":16,"ol":5,"oh":28,"g":0},
{"d":"2010-09-09","wm":88,"wl":72,"wh":100,"am":0,"al":0,"ah":9,"om":16,"ol":5,"oh":29,"g":0},
{"d":"2010-09-16","wm":85,"wl":69,"wh":100,"am":0,"al":0,"ah":9,"om":15,"ol":4,"oh":28,"g":0},
{"d":"2010-09-23","wm":83,"wl":68,"wh":100,"am":0,"al":0,"ah":9,"om":18,"ol":6,"oh":30,"g":0},
{"d":"2010-09-30","wm":86,"wl":70,"wh":100,"am":0,"al":0,"ah":9,"om":16,"ol":5,"oh":31,"g":0},
{"d":"2010-10-07","wm":79,"wl":64,"wh":98,"am":0,"al":0,"ah":9,"om":18,"ol":5,"oh":33,"g":0},
{"d":"2010-10-14","wm":83,"wl":66,"wh":100,"am":0,"al":0,"ah":9,"om":19,"ol":6,"oh":33,"g":0},
{"d":"2010-10-21","wm":79,"wl":64,"wh":97,"am":0,"al":0,"ah":9,"om":22,"ol":8,"oh":35,"g":0},
{"d":"2010-10-28","wm":81,"wl":65,"wh":98,"am":0,"al":0,"ah":9,"om":19,"ol":6,"oh":34,"g":0},
{"d":"2010-11-02","wm":79,"wl":62,"wh":97,"am":0,"al":0,"ah":9,"om":20,"ol":6,"oh":36,"g":0},
{"d":"2010-11-06","wm":75,"wl":58,"wh":93,"am":0,"al":0,"ah":10,"om":26,"ol":10,"oh":41,"g":0},
{"d":"2010-11-10","wm":73,"wl":58,"wh":92,"am":0,"al":0,"ah":10,"om":27,"ol":10,"oh":42,"g":0},
{"d":"2010-11-16","wm":75,"wl":59,"wh":93,"am":0,"al":0,"ah":10,"om":24,"ol":9,"oh":40,"g":0},
{"d":"2010-11-22","wm":77,"wl":60,"wh":93,"am":0,"al":0,"ah":10,"om":25,"ol":9,"oh":40,"g":0},
{"d":"2010-11-27","wm":75,"wl":59,"wh":92,"am":0,"al":0,"ah":10,"om":23,"ol":8,"oh":39,"g":0},
{"d":"2010-12-02","wm":78,"wl":62,"wh":93,"am":0,"al":0,"ah":10,"om":22,"ol":8,"oh":38,"g":0}
]
},
"vconcat": [
{
"hconcat": [
{
"width": 404, "height": 275,
"data": {"name": "a"},
"layer": [
{
"encoding": {"x": {"field": "d", "type": "temporal", "scale": {"domain": [{"year":2009,"month":"dec","date":1},{"year":2011,"month":"jan","date":1}], "nice": false}, "axis": {"tickCount": {"interval": "month", "step": 1}, "labels": false, "title": null, "grid": true, "minExtent": 0, "maxExtent": 0}}},
"layer": [
{"mark": {"type": "area", "fill": "#0b2a3a", "fillOpacity": 0.2, "stroke": "#0b2a3a", "strokeOpacity": 0.3, "strokeWidth": 1}, "encoding": {"y": {"field": "al", "type": "quantitative", "scale": {"domain": [0, 100], "nice": false}, "axis": {"values": [20, 40, 60, 80, 100], "title": "Concentration (%)", "titleFontSize": 21, "titlePadding": 5, "labelPadding": 8, "grid": true}}, "y2": {"field": "ah"}}},
{"mark": {"type": "area", "fill": "#6a3d9a", "fillOpacity": 0.2, "stroke": "#6a3d9a", "strokeOpacity": 0.3, "strokeWidth": 1}, "encoding": {"y": {"field": "wl", "type": "quantitative"}, "y2": {"field": "wh"}}},
{"mark": {"type": "area", "fill": "#f07850", "fillOpacity": 0.25, "stroke": "#f07850", "strokeOpacity": 0.3, "strokeWidth": 1}, "encoding": {"y": {"field": "ol", "type": "quantitative"}, "y2": {"field": "oh"}}},
{"mark": {"type": "line", "color": "#0b2a3a", "strokeWidth": 1.6}, "encoding": {"y": {"field": "am", "type": "quantitative"}}},
{"mark": {"type": "line", "color": "#6a3d9a", "strokeWidth": 1.6}, "encoding": {"y": {"field": "wm", "type": "quantitative"}}},
{"mark": {"type": "line", "color": "#f07850", "strokeWidth": 1.6}, "encoding": {"y": {"field": "om", "type": "quantitative"}}},
{"mark": {"type": "line", "color": "#e6f53c", "strokeWidth": 3}, "encoding": {"y": {"field": "g", "type": "quantitative"}}}
]
},
{"data": {"values": [{}]}, "mark": {"type": "rect", "fill": "white", "stroke": "black", "strokeWidth": 1.3}, "encoding": {"x": {"datum": {"year":2009,"month":"dec","date":7}, "type": "temporal"}, "x2": {"datum": {"year":2010,"month":"jan","date":31}}, "y": {"datum": 72, "type": "quantitative"}, "y2": {"datum": 56}}},
{"data": {"values": [{}]}, "mark": {"type": "text", "text": "(a)", "fontSize": 32, "fontWeight": "bold", "align": "center", "baseline": "middle", "color": "black"}, "encoding": {"x": {"datum": {"year":2010,"month":"jan","date":3}, "type": "temporal"}, "y": {"datum": 64, "type": "quantitative"}}},
{"data": {"values": [{}]}, "mark": {"type": "text", "text": "M1", "fontSize": 26, "fontWeight": "bold", "align": "left", "baseline": "alphabetic", "color": "#19b0ef"}, "encoding": {"x": {"datum": {"year":2009,"month":"dec","date":6}, "type": "temporal"}, "y": {"datum": 45.9, "type": "quantitative"}}},
{"data": {"values": [{}]}, "mark": {"type": "text", "text": "upper", "fontSize": 18, "fontWeight": "bold", "align": "left", "baseline": "alphabetic", "color": "#19b0ef"}, "encoding": {"x": {"datum": {"year":2010,"month":"jan","date":12}, "type": "temporal"}, "y": {"datum": 44.1, "type": "quantitative"}}}
]
},
{
"width": 404, "height": 275,
"data": {"name": "b"},
"layer": [
{
"encoding": {"x": {"field": "d", "type": "temporal", "scale": {"domain": [{"year":2009,"month":"dec","date":1},{"year":2011,"month":"jan","date":1}], "nice": false}, "axis": {"tickCount": {"interval": "month", "step": 1}, "labels": false, "title": null, "grid": true, "minExtent": 0, "maxExtent": 0}}},
"layer": [
{"mark": {"type": "area", "fill": "#0b2a3a", "fillOpacity": 0.2, "stroke": "#0b2a3a", "strokeOpacity": 0.3, "strokeWidth": 1}, "encoding": {"y": {"field": "al", "type": "quantitative", "scale": {"domain": [0, 100], "nice": false}, "axis": {"values": [0, 20, 40, 60, 80, 100], "labels": false, "title": null, "grid": true, "minExtent": 0, "maxExtent": 0}}, "y2": {"field": "ah"}}},
{"mark": {"type": "area", "fill": "#6a3d9a", "fillOpacity": 0.2, "stroke": "#6a3d9a", "strokeOpacity": 0.3, "strokeWidth": 1}, "encoding": {"y": {"field": "wl", "type": "quantitative"}, "y2": {"field": "wh"}}},
{"mark": {"type": "area", "fill": "#f07850", "fillOpacity": 0.25, "stroke": "#f07850", "strokeOpacity": 0.3, "strokeWidth": 1}, "encoding": {"y": {"field": "ol", "type": "quantitative"}, "y2": {"field": "oh"}}},
{"mark": {"type": "line", "strokeWidth": 1.6}, "encoding": {"y": {"field": "am", "type": "quantitative"}, "color": {"datum": "ASW", "type": "nominal", "scale": {"domain": ["ASW", "WW", "WDW", "GMW"], "range": ["#0b2a3a", "#6a3d9a", "#f07850", "#e6f53c"]}, "legend": {"orient": "none", "legendX": 11, "legendY": 89, "title": null, "symbolType": "M-2,0H2", "symbolStrokeWidth": 4.5, "symbolSize": 484, "symbolOffset": 8, "labelFontSize": 18, "labelFont": "Liberation Sans", "labelColor": "#000000", "labelOffset": 14, "fillColor": "white", "strokeColor": "#555555", "padding": 3, "rowPadding": 1}}}},
{"mark": {"type": "line", "strokeWidth": 1.6}, "encoding": {"y": {"field": "wm", "type": "quantitative"}, "color": {"datum": "WW", "type": "nominal"}}},
{"mark": {"type": "line", "strokeWidth": 1.6}, "encoding": {"y": {"field": "om", "type": "quantitative"}, "color": {"datum": "WDW", "type": "nominal"}}},
{"mark": {"type": "line", "strokeWidth": 3}, "encoding": {"y": {"field": "g", "type": "quantitative"}, "color": {"datum": "GMW", "type": "nominal"}}}
]
},
{"data": {"values": [{}]}, "mark": {"type": "rect", "fill": "white", "stroke": "black", "strokeWidth": 1.3}, "encoding": {"x": {"datum": {"year":2010,"month":"oct","date":30}, "type": "temporal"}, "x2": {"datum": {"year":2010,"month":"dec","date":26}}, "y": {"datum": 70.5, "type": "quantitative"}, "y2": {"datum": 54.5}}},
{"data": {"values": [{}]}, "mark": {"type": "text", "text": "(b)", "fontSize": 32, "fontWeight": "bold", "align": "center", "baseline": "middle", "color": "black"}, "encoding": {"x": {"datum": {"year":2010,"month":"nov","date":27}, "type": "temporal"}, "y": {"datum": 62.5, "type": "quantitative"}}},
{"data": {"values": [{}]}, "mark": {"type": "text", "text": "M2", "fontSize": 26, "fontWeight": "bold", "align": "left", "baseline": "alphabetic", "color": "#ff00ff"}, "encoding": {"x": {"datum": {"year":2010,"month":"sep","date":23}, "type": "temporal"}, "y": {"datum": 43.7, "type": "quantitative"}}},
{"data": {"values": [{}]}, "mark": {"type": "text", "text": "upper", "fontSize": 18, "fontWeight": "bold", "align": "left", "baseline": "alphabetic", "color": "#ff00ff"}, "encoding": {"x": {"datum": {"year":2010,"month":"oct","date":30}, "type": "temporal"}, "y": {"datum": 41.9, "type": "quantitative"}}}
]
}
],
"spacing": 12,
"bounds": "flush",
"resolve": {"scale": {"color": "independent"}, "legend": {"color": "independent"}}
},
{
"hconcat": [
{
"width": 404, "height": 276,
"data": {"name": "c"},
"layer": [
{
"encoding": {"x": {"field": "d", "type": "temporal", "scale": {"domain": [{"year":2009,"month":"dec","date":1},{"year":2011,"month":"jan","date":1}], "nice": false}, "axis": {"tickCount": {"interval": "month", "step": 1}, "labelExpr": "year(datum.value) > 2010 ? '' : slice(timeFormat(datum.value, '%b'), 0, 1)", "labelFlush": false, "labelOverlap": false, "labelPadding": 12, "labelFontSize": 19, "labelAngle": 0, "title": "2010\u00a0\u00a0\u00a0\u00a0\u00a0\u00a0\u00a0\u00a0\u00a0\u00a0\u00a0\u00a0\u00a0\u00a0\u00a0\u00a0Month", "titleFontSize": 22, "titleX": 25, "titleY": 56, "titleAlign": "left", "titleBaseline": "alphabetic", "grid": true}}},
"layer": [
{"mark": {"type": "area", "fill": "#0b2a3a", "fillOpacity": 0.2, "stroke": "#0b2a3a", "strokeOpacity": 0.3, "strokeWidth": 1}, "encoding": {"y": {"field": "al", "type": "quantitative", "scale": {"domain": [0, 100], "nice": false}, "axis": {"values": [0, 20, 40, 60, 80, 100], "title": "Concentration (%)", "titleFontSize": 21, "titlePadding": 5, "labelPadding": 8, "grid": true}}, "y2": {"field": "ah"}}},
{"mark": {"type": "area", "fill": "#6a3d9a", "fillOpacity": 0.2, "stroke": "#6a3d9a", "strokeOpacity": 0.3, "strokeWidth": 1}, "encoding": {"y": {"field": "wl", "type": "quantitative"}, "y2": {"field": "wh"}}},
{"mark": {"type": "area", "fill": "#f07850", "fillOpacity": 0.25, "stroke": "#f07850", "strokeOpacity": 0.3, "strokeWidth": 1}, "encoding": {"y": {"field": "ol", "type": "quantitative"}, "y2": {"field": "oh"}}},
{"mark": {"type": "line", "color": "#0b2a3a", "strokeWidth": 1.6}, "encoding": {"y": {"field": "am", "type": "quantitative"}}},
{"mark": {"type": "line", "color": "#6a3d9a", "strokeWidth": 1.6}, "encoding": {"y": {"field": "wm", "type": "quantitative"}}},
{"mark": {"type": "line", "color": "#f07850", "strokeWidth": 1.6}, "encoding": {"y": {"field": "om", "type": "quantitative"}}},
{"mark": {"type": "line", "color": "#e6f53c", "strokeWidth": 3}, "encoding": {"y": {"field": "g", "type": "quantitative"}}}
]
},
{"data": {"values": [{}]}, "mark": {"type": "rect", "fill": "white", "stroke": "black", "strokeWidth": 1.3}, "encoding": {"x": {"datum": {"year":2009,"month":"dec","date":9}, "type": "temporal"}, "x2": {"datum": {"year":2010,"month":"feb","date":4}}, "y": {"datum": 54, "type": "quantitative"}, "y2": {"datum": 38}}},
{"data": {"values": [{}]}, "mark": {"type": "text", "text": "(c)", "fontSize": 32, "fontWeight": "bold", "align": "center", "baseline": "middle", "color": "black"}, "encoding": {"x": {"datum": {"year":2010,"month":"jan","date":6}, "type": "temporal"}, "y": {"datum": 46, "type": "quantitative"}}},
{"data": {"values": [{}]}, "mark": {"type": "text", "text": "M1", "fontSize": 26, "fontWeight": "bold", "align": "left", "baseline": "alphabetic", "color": "#0000e6"}, "encoding": {"x": {"datum": {"year":2010,"month":"feb","date":9}, "type": "temporal"}, "y": {"datum": 42.9, "type": "quantitative"}}},
{"data": {"values": [{}]}, "mark": {"type": "text", "text": "lower", "fontSize": 18, "fontWeight": "bold", "align": "left", "baseline": "alphabetic", "color": "#0000e6"}, "encoding": {"x": {"datum": {"year":2010,"month":"mar","date":18}, "type": "temporal"}, "y": {"datum": 40.9, "type": "quantitative"}}}
]
},
{
"width": 404, "height": 276,
"data": {"name": "d"},
"layer": [
{
"encoding": {"x": {"field": "d", "type": "temporal", "scale": {"domain": [{"year":2009,"month":"dec","date":1},{"year":2011,"month":"jan","date":1}], "nice": false}, "axis": {"tickCount": {"interval": "month", "step": 1}, "labelExpr": "year(datum.value) > 2010 ? '' : slice(timeFormat(datum.value, '%b'), 0, 1)", "labelFlush": false, "labelOverlap": false, "labelPadding": 12, "labelFontSize": 19, "labelAngle": 0, "title": "2010\u00a0\u00a0\u00a0\u00a0\u00a0\u00a0\u00a0\u00a0\u00a0\u00a0\u00a0\u00a0\u00a0\u00a0\u00a0\u00a0Month", "titleFontSize": 22, "titleX": 25, "titleY": 56, "titleAlign": "left", "titleBaseline": "alphabetic", "grid": true}}},
"layer": [
{"mark": {"type": "area", "fill": "#0b2a3a", "fillOpacity": 0.2, "stroke": "#0b2a3a", "strokeOpacity": 0.3, "strokeWidth": 1}, "encoding": {"y": {"field": "al", "type": "quantitative", "scale": {"domain": [0, 100], "nice": false}, "axis": {"values": [0, 20, 40, 60, 80, 100], "labels": false, "title": null, "grid": true, "minExtent": 0, "maxExtent": 0}}, "y2": {"field": "ah"}}},
{"mark": {"type": "area", "fill": "#6a3d9a", "fillOpacity": 0.2, "stroke": "#6a3d9a", "strokeOpacity": 0.3, "strokeWidth": 1}, "encoding": {"y": {"field": "wl", "type": "quantitative"}, "y2": {"field": "wh"}}},
{"mark": {"type": "area", "fill": "#f07850", "fillOpacity": 0.25, "stroke": "#f07850", "strokeOpacity": 0.3, "strokeWidth": 1}, "encoding": {"y": {"field": "ol", "type": "quantitative"}, "y2": {"field": "oh"}}},
{"mark": {"type": "line", "color": "#0b2a3a", "strokeWidth": 1.6}, "encoding": {"y": {"field": "am", "type": "quantitative"}}},
{"mark": {"type": "line", "color": "#6a3d9a", "strokeWidth": 1.6}, "encoding": {"y": {"field": "wm", "type": "quantitative"}}},
{"mark": {"type": "line", "color": "#f07850", "strokeWidth": 1.6}, "encoding": {"y": {"field": "om", "type": "quantitative"}}},
{"mark": {"type": "line", "color": "#e6f53c", "strokeWidth": 3}, "encoding": {"y": {"field": "g", "type": "quantitative"}}}
]
},
{"data": {"values": [{}]}, "mark": {"type": "rect", "fill": "white", "stroke": "black", "strokeWidth": 1.3}, "encoding": {"x": {"datum": {"year":2009,"month":"dec","date":7}, "type": "temporal"}, "x2": {"datum": {"year":2010,"month":"feb","date":2}}, "y": {"datum": 53.6, "type": "quantitative"}, "y2": {"datum": 37.7}}},
{"data": {"values": [{}]}, "mark": {"type": "text", "text": "(d)", "fontSize": 32, "fontWeight": "bold", "align": "center", "baseline": "middle", "color": "black"}, "encoding": {"x": {"datum": {"year":2010,"month":"jan","date":4}, "type": "temporal"}, "y": {"datum": 45.7, "type": "quantitative"}}},
{"data": {"values": [{}]}, "mark": {"type": "text", "text": "M2", "fontSize": 26, "fontWeight": "bold", "align": "left", "baseline": "alphabetic", "color": "#ff0000"}, "encoding": {"x": {"datum": {"year":2010,"month":"feb","date":4}, "type": "temporal"}, "y": {"datum": 42.9, "type": "quantitative"}}},
{"data": {"values": [{}]}, "mark": {"type": "text", "text": "lower", "fontSize": 18, "fontWeight": "bold", "align": "left", "baseline": "alphabetic", "color": "#ff0000"}, "encoding": {"x": {"datum": {"year":2010,"month":"mar","date":13}, "type": "temporal"}, "y": {"datum": 40.9, "type": "quantitative"}}}
]
},
{
"width": 405, "height": 276,
"data": {"name": "e"},
"layer": [
{
"encoding": {"x": {"field": "d", "type": "temporal", "scale": {"domain": [{"year":2009,"month":"dec","date":1},{"year":2011,"month":"jan","date":1}], "nice": false}, "axis": {"tickCount": {"interval": "month", "step": 1}, "labelExpr": "year(datum.value) > 2010 ? '' : slice(timeFormat(datum.value, '%b'), 0, 1)", "labelFlush": false, "labelOverlap": false, "labelPadding": 12, "labelFontSize": 19, "labelAngle": 0, "title": "2010\u00a0\u00a0\u00a0\u00a0\u00a0\u00a0\u00a0\u00a0\u00a0\u00a0\u00a0\u00a0\u00a0\u00a0\u00a0\u00a0Month", "titleFontSize": 22, "titleX": 25, "titleY": 56, "titleAlign": "left", "titleBaseline": "alphabetic", "grid": true}}},
"layer": [
{"mark": {"type": "area", "fill": "#0b2a3a", "fillOpacity": 0.2, "stroke": "#0b2a3a", "strokeOpacity": 0.3, "strokeWidth": 1}, "encoding": {"y": {"field": "al", "type": "quantitative", "scale": {"domain": [0, 100], "nice": false}, "axis": {"values": [0, 20, 40, 60, 80, 100], "labels": false, "title": null, "grid": true, "minExtent": 0, "maxExtent": 0}}, "y2": {"field": "ah"}}},
{"mark": {"type": "area", "fill": "#6a3d9a", "fillOpacity": 0.2, "stroke": "#6a3d9a", "strokeOpacity": 0.3, "strokeWidth": 1}, "encoding": {"y": {"field": "wl", "type": "quantitative"}, "y2": {"field": "wh"}}},
{"mark": {"type": "area", "fill": "#f07850", "fillOpacity": 0.25, "stroke": "#f07850", "strokeOpacity": 0.3, "strokeWidth": 1}, "encoding": {"y": {"field": "ol", "type": "quantitative"}, "y2": {"field": "oh"}}},
{"mark": {"type": "line", "color": "#0b2a3a", "strokeWidth": 1.6}, "encoding": {"y": {"field": "am", "type": "quantitative"}}},
{"mark": {"type": "line", "color": "#6a3d9a", "strokeWidth": 1.6}, "encoding": {"y": {"field": "wm", "type": "quantitative"}}},
{"mark": {"type": "line", "color": "#f07850", "strokeWidth": 1.6}, "encoding": {"y": {"field": "om", "type": "quantitative"}}},
{"mark": {"type": "line", "color": "#e6f53c", "strokeWidth": 3}, "encoding": {"y": {"field": "g", "type": "quantitative"}}}
]
},
{"data": {"values": [{}]}, "mark": {"type": "rect", "fill": "white", "stroke": "black", "strokeWidth": 1.3}, "encoding": {"x": {"datum": {"year":2009,"month":"dec","date":7}, "type": "temporal"}, "x2": {"datum": {"year":2010,"month":"feb","date":2}}, "y": {"datum": 53.6, "type": "quantitative"}, "y2": {"datum": 37.7}}},
{"data": {"values": [{}]}, "mark": {"type": "text", "text": "(e)", "fontSize": 32, "fontWeight": "bold", "align": "center", "baseline": "middle", "color": "black"}, "encoding": {"x": {"datum": {"year":2010,"month":"jan","date":4}, "type": "temporal"}, "y": {"datum": 45.7, "type": "quantitative"}}},
{"data": {"values": [{}]}, "mark": {"type": "text", "text": "M3", "fontSize": 26, "fontWeight": "bold", "align": "left", "baseline": "alphabetic", "color": "#c05000"}, "encoding": {"x": {"datum": {"year":2010,"month":"feb","date":7}, "type": "temporal"}, "y": {"datum": 42.9, "type": "quantitative"}}},
{"data": {"values": [{}]}, "mark": {"type": "text", "text": "lower", "fontSize": 18, "fontWeight": "bold", "align": "left", "baseline": "alphabetic", "color": "#c05000"}, "encoding": {"x": {"datum": {"year":2010,"month":"mar","date":15}, "type": "temporal"}, "y": {"datum": 40.9, "type": "quantitative"}}}
]
}
],
"spacing": 11,
"bounds": "flush"
}
],
"config": {
"font": "Liberation Sans",
"view": {"stroke": "#858585", "strokeWidth": 1},
"axis": {"domain": false, "ticks": false, "grid": true, "gridColor": "#dedede", "gridWidth": 1, "labelFont": "Liberation Sans", "titleFont": "Liberation Sans", "labelFontSize": 19, "labelColor": "#262626", "titleColor": "#262626", "titleFontWeight": "normal"},
"text": {"font": "Liberation Sans"}
}
}
